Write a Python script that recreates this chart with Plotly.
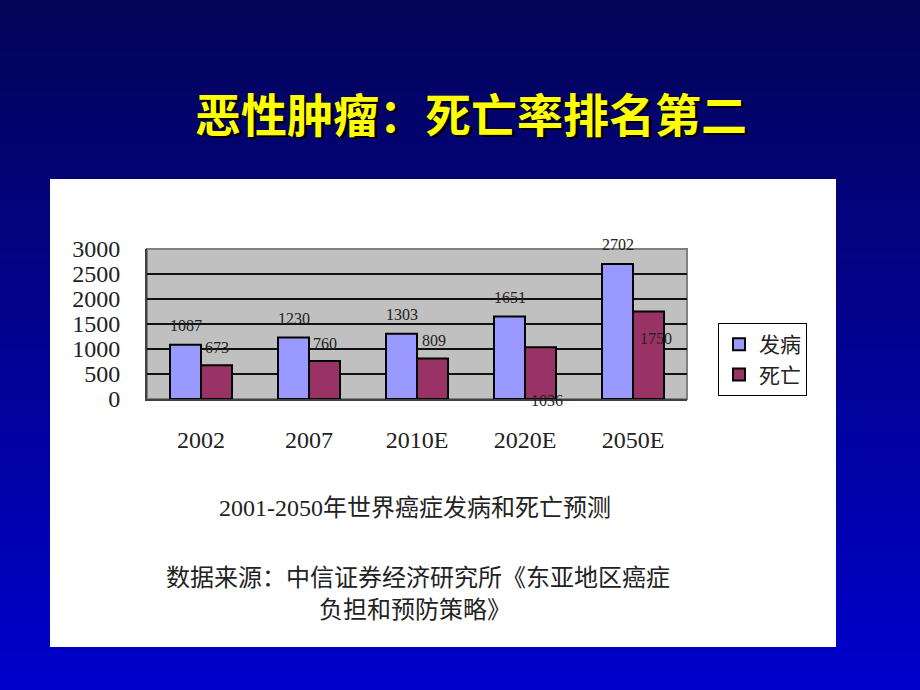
import base64, struct, zlib
import plotly.graph_objects as go

# ---- data ----
categories = ["2002", "2007", "2010E", "2020E", "2050E"]
incidence = [1087, 1230, 1303, 1651, 2702]   # 发病
deaths = [673, 760, 809, 1036, 1750]         # 死亡
series_names = ["发病", "死亡"]
y_ticks = [0, 500, 1000, 1500, 2000, 2500, 3000]

title_text = "恶性肿瘤：死亡率排名第二"
caption_text = "2001-2050年世界癌症发病和死亡预测"
source_line1 = "数据来源：中信证券经济研究所《东亚地区癌症"
source_line2 = "负担和预防策略》"

# label offsets (px) for the death labels, as laid out in the reference
death_label_style = [
    dict(xshift=2, yshift=18, xanchor="left"),
    dict(xshift=2, yshift=18, xanchor="left"),
    dict(xshift=3, yshift=18, xanchor="left"),
    dict(xshift=22, yshift=-53, xanchor="center"),
    dict(xshift=23, yshift=-27, xanchor="center"),
]

W, H = 920, 690


def gradient_png(h, top, bottom):
    rows = []
    for i in range(h):
        t = i / (h - 1)
        c = bytes(int(round(top[k] + (bottom[k] - top[k]) * t)) for k in range(3))
        rows.append(b"\x00" + c)
    raw = b"".join(rows)

    def chunk(tag, data):
        return (struct.pack(">I", len(data)) + tag + data +
                struct.pack(">I", zlib.crc32(tag + data) & 0xffffffff))

    png = b"\x89PNG\r\n\x1a\n"
    png += chunk(b"IHDR", struct.pack(">IIBBBBB", 1, h, 8, 2, 0, 0, 0))
    png += chunk(b"IDAT", zlib.compress(raw, 9))
    png += chunk(b"IEND", b"")
    return "data:image/png;base64," + base64.b64encode(png).decode()


bg = gradient_png(H, (4, 4, 88), (0, 0, 204))

def px_x(v):
    return v / W

def px_y(v):
    return 1 - v / H

serif = "Liberation Serif, Noto Sans CJK SC, serif"

fig = go.Figure()
fig.add_trace(go.Bar(
    x=categories, y=incidence, name=series_names[0],
    marker=dict(color="#9999FF", line=dict(color="black", width=2)),
))
fig.add_trace(go.Bar(
    x=categories, y=deaths, name=series_names[1],
    marker=dict(color="#993366", line=dict(color="black", width=2)),
))

annotations = []
for i, v in enumerate(incidence):
    annotations.append(dict(
        x=i, y=v, xref="x", yref="y", text=str(v), showarrow=False,
        xshift=-15.5, yshift=19, xanchor="center", yanchor="middle",
        font=dict(family=serif, size=16, color="#222222"),
    ))
for i, (v, st) in enumerate(zip(deaths, death_label_style)):
    annotations.append(dict(
        x=i, y=v, xref="x", yref="y", text=str(v), showarrow=False,
        yanchor="middle", font=dict(family=serif, size=16, color="#222222"), **st,
    ))

# title with shadow
for dx, dy, col in [(2.5, -2.5, "#000000"), (0, 0, "#FFFF00")]:
    annotations.append(dict(
        x=px_x(471), y=px_y(112), xref="paper", yref="paper",
        text="<b>" + title_text + "</b>", showarrow=False,
        xshift=dx, yshift=dy, xanchor="center", yanchor="middle",
        font=dict(family="Noto Sans CJK SC, sans-serif", size=46, color=col),
    ))

for txt, cx, cy in [(caption_text, 415, 508), (source_line1, 418, 578), (source_line2, 415, 610)]:
    annotations.append(dict(
        x=px_x(cx), y=px_y(cy), xref="paper", yref="paper", text=txt,
        showarrow=False, xanchor="center", yanchor="middle",
        font=dict(family=serif, size=24, color="#222222"),
    ))

shapes = [
    dict(type="rect", xref="paper", yref="paper", layer="below",
         x0=px_x(50), x1=px_x(836), y0=px_y(647), y1=px_y(179),
         fillcolor="white", line=dict(width=0)),
    dict(type="rect", xref="x domain", yref="y domain", layer="below",
         x0=0, x1=1, y0=0, y1=1, fillcolor="#C0C0C0",
         line=dict(color="#808080", width=2)),
]

fig.update_layout(
    width=W, height=H,
    margin=dict(l=0, r=0, t=0, b=0, pad=0, autoexpand=False),
    paper_bgcolor="#000080",
    plot_bgcolor="rgba(0,0,0,0)",
    images=[dict(source=bg, xref="paper", yref="paper", x=0, y=1,
                 sizex=1, sizey=1, sizing="stretch", layer="below",
                 xanchor="left", yanchor="top")],
    shapes=shapes,
    annotations=annotations,
    barmode="group", bargap=0.426, bargroupgap=0,
    showlegend=True,
    legend=dict(
        x=px_x(718), y=px_y(323), xanchor="left", yanchor="top",
        bgcolor="white", bordercolor="black", borderwidth=1,
        font=dict(family=serif, size=21, color="#222222"),
        itemsizing="constant", itemwidth=30,
    ),
    xaxis=dict(
        type="category", automargin=False,
        categoryorder="array", categoryarray=categories,
        range=[-0.5, len(categories) - 0.5],
        domain=[px_x(147), px_x(687)],
        showgrid=False, showline=True, linecolor="#404040", linewidth=2,
        ticks="", ticklabelstandoff=18,
        tickfont=dict(family=serif, size=24, color="#222222"),
    ),
    yaxis=dict(
        automargin=False,
        domain=[px_y(399), px_y(249)],
        range=[0, 3000], tickvals=y_ticks, ticktext=[str(t) for t in y_ticks],
        showgrid=True, gridcolor="#111111", gridwidth=1.5,
        showline=True, linecolor="#404040", linewidth=2,
        zeroline=False, ticks="", ticklabelstandoff=20,
        tickfont=dict(family=serif, size=24, color="#222222"),
    ),
)

fig.write_html("out.html")
